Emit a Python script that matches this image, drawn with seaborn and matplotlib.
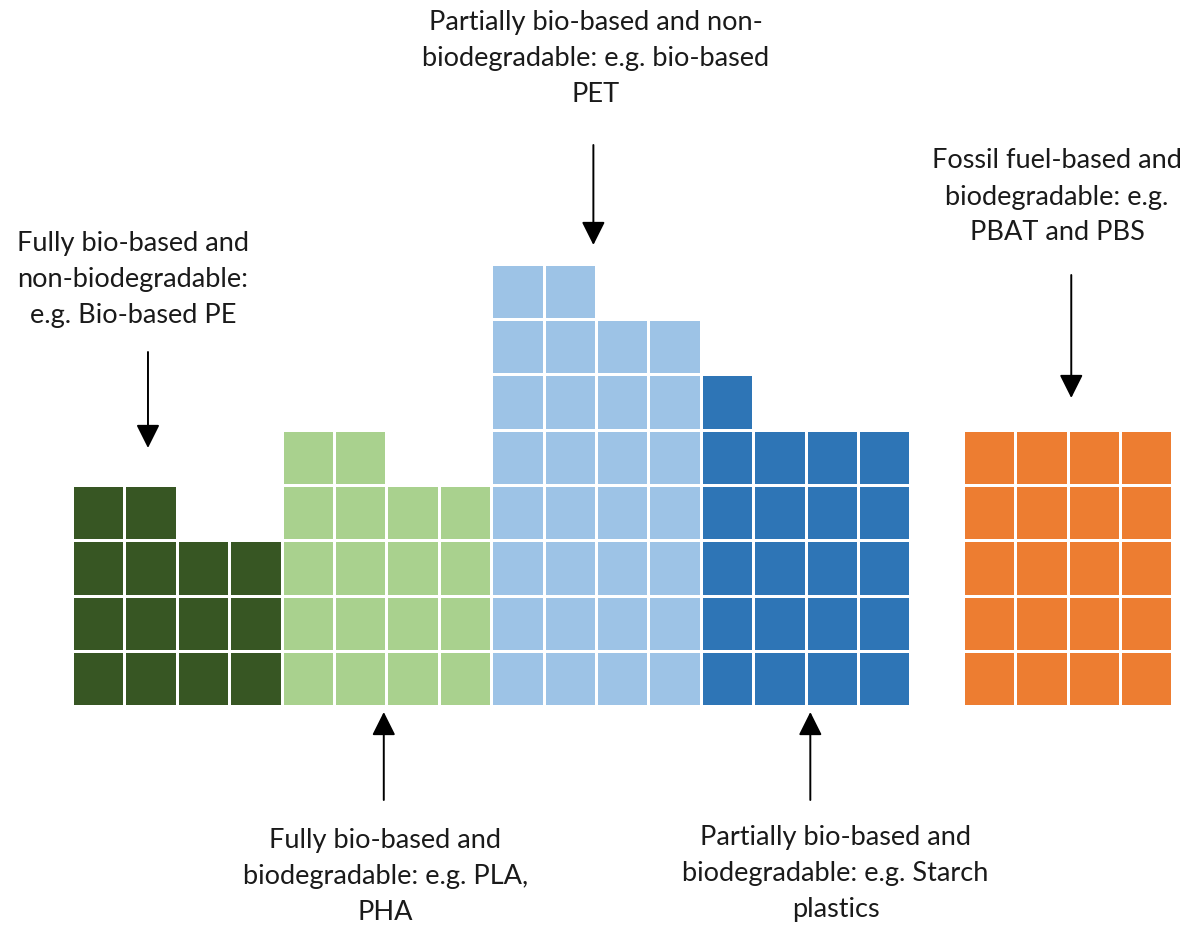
import numpy as np
import pandas as pd
import matplotlib
matplotlib.use("Agg")
import matplotlib.pyplot as plt
from matplotlib.colors import ListedColormap
import seaborn as sns

# Bioplastic categories, drawn left to right as blocks of unit cells
categories = [
    "Fully bio-based and non-biodegradable",
    "Fully bio-based and biodegradable",
    "Partially bio-based and non-biodegradable",
    "Partially bio-based and biodegradable",
    "Fossil fuel-based and biodegradable",
]
colors = ["#375623", "#A9D18E", "#9DC3E6", "#2E75B6", "#ED7D31"]

# Stack height (number of cells) of each column within a category block
column_heights = [
    [4, 4, 3, 3],
    [5, 5, 4, 4],
    [8, 8, 7, 7],
    [6, 5, 5, 5],
    [5, 5, 5, 5],
]
# Empty columns inserted before each block
gap_before = [0, 0, 0, 0, 1]

labels = [
    "Fully bio-based and\nnon-biodegradable:\ne.g. Bio-based PE",
    "Fully bio-based and\nbiodegradable: e.g. PLA,\nPHA",
    "Partially bio-based and non-\nbiodegradable: e.g. bio-based\nPET",
    "Partially bio-based and\nbiodegradable: e.g. Starch\nplastics",
    "Fossil fuel-based and\nbiodegradable: e.g.\nPBAT and PBS",
]

# Build the cell grid (rows from top) holding category codes
n_rows = max(max(h) for h in column_heights)
cols = []
block_cols = []
for code, (heights, gap) in enumerate(zip(column_heights, gap_before), start=1):
    for _ in range(gap):
        cols.append(np.zeros(n_rows))
    start = len(cols)
    for h in heights:
        col = np.zeros(n_rows)
        col[n_rows - h:] = code
        cols.append(col)
    block_cols.append(list(range(start, len(cols))))
grid = pd.DataFrame(np.column_stack(cols))
n_cols = grid.shape[1]

sns.set_theme(style="white")
plt.rcParams["font.family"] = ["Lato", "DejaVu Sans"]

fig = plt.figure(figsize=(11.93, 9.30), dpi=100)
col_w = 52.4 / 1193
ax = fig.add_axes([72.0 / 1193, 224 / 930, n_cols * col_w, 442 / 930])

sns.heatmap(
    grid,
    mask=grid == 0,
    cmap=ListedColormap(colors),
    vmin=0.5,
    vmax=len(colors) + 0.5,
    cbar=False,
    linewidths=2,
    linecolor="white",
    square=False,
    ax=ax,
)
ax.set_xticks([])
ax.set_yticks([])
ax.set_xlabel("")
ax.set_ylabel("")
for s in ax.spines.values():
    s.set_visible(False)

# Row height in pixels, used to place arrows/labels in data units
top_px = 930 - (224 + 442)
row_px = 442 / n_rows

arrow_style = dict(arrowstyle="-|>", color="black", lw=1.4,
                   mutation_scale=36, shrinkA=0, shrinkB=0)

# Arrow x position (in columns) and vertical pixel layout for each label
arrow_x = [1.45, 5.95, 9.95, 14.09, 19.07]
arrow_tip_px = [448, 712, 245, 712, 398]
arrow_tail_px = [352, 800, 145, 800, 275]
label_x = [1.16, 5.98, 10.0, 14.57, 18.8]
label_y_px = [280, 876, 59, 873, 197]

for i, lab in enumerate(labels):
    tip = (arrow_x[i], (arrow_tip_px[i] - top_px) / row_px)
    tail = (arrow_x[i], (arrow_tail_px[i] - top_px) / row_px)
    ax.annotate("", xy=tip, xytext=tail, xycoords="data",
                arrowprops=arrow_style, annotation_clip=False)
    ax.text(label_x[i], (label_y_px[i] - top_px) / row_px, lab,
            ha="center", va="center", fontsize=19.5, color="#1a1a1a",
            linespacing=1.55, clip_on=False)

fig.savefig("out.png", dpi=100, facecolor="white")
